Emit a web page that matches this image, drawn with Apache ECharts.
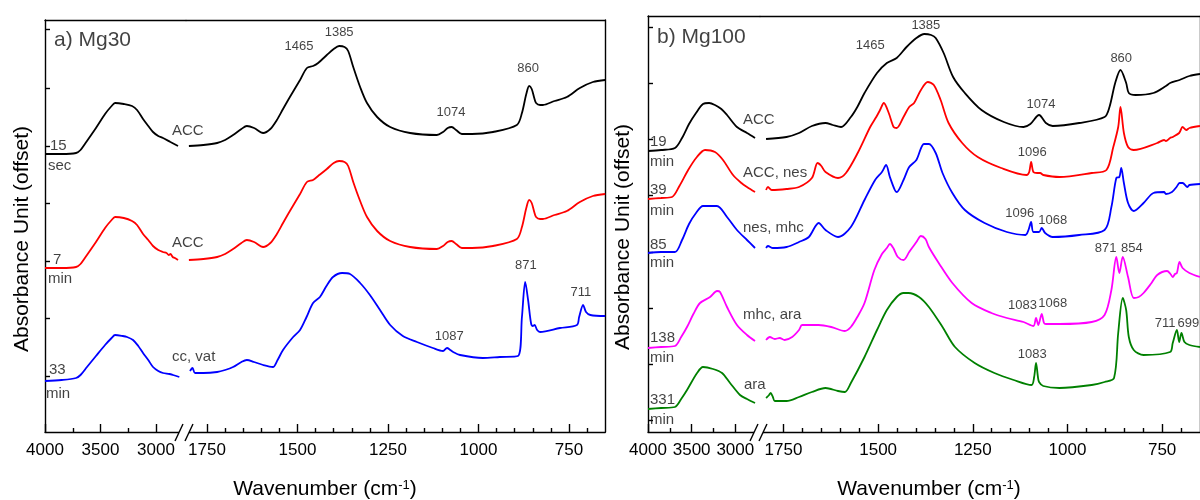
<!DOCTYPE html>
<html>
<head>
<meta charset="utf-8">
<script src="https://cdn.jsdelivr.net/npm/echarts@6/dist/echarts.min.js"></script>
<style>
  html, body { margin: 0; padding: 0; background: #fff; }
  #chart { width: 1200px; height: 500px; }
</style>
</head>
<body>
<div id="chart"></div>
<script>
// FTIR spectra, offset absorbance vs wavenumber (cm-1), broken x axis.
// Each spectrum is split into a high-wavenumber part (4000-2750) and a
// low-wavenumber part (1800-650). Points are [wavenumber, offset absorbance].

// ---- a) Mg30 ----
const mg30_15s_high = [[4000,2.80],[3850,2.80],[3720,2.81],[3680,2.84],[3622,2.93],[3541,3.06],[3459,3.20],[3400,3.28],[3369,3.31],[3290,3.30],[3216,3.28],[3171,3.24],[3117,3.15],[3070,3.08],[3027,3.02],[2980,2.98],[2937,2.96],[2870,2.92],[2802,2.88]];
const mg30_15s_low = [[1800,2.88],[1760,2.89],[1722,2.91],[1700,2.94],[1678,2.99],[1655,3.05],[1640,3.08],[1620,3.06],[1595,3.01],[1575,3.05],[1557,3.14],[1540,3.25],[1521,3.37],[1493,3.54],[1474,3.66],[1457,3.68],[1443,3.71],[1419,3.79],[1400,3.85],[1385,3.88],[1370,3.87],[1360,3.83],[1346,3.67],[1327,3.47],[1308,3.31],[1280,3.17],[1244,3.07],[1189,3.01],[1115,2.99],[1098,3.02],[1085,3.06],[1074,3.07],[1062,3.04],[1046,3.00],[1018,3.00],[960,3.02],[894,3.09],[880,3.21],[868,3.40],[860,3.48],[853,3.45],[846,3.36],[841,3.31],[830,3.29],[822,3.29],[790,3.33],[756,3.37],[720,3.46],[684,3.52],[650,3.54]];

const mg30_7m_high = [[4000,1.66],[3850,1.66],[3720,1.67],[3680,1.70],[3622,1.79],[3541,1.92],[3459,2.06],[3400,2.14],[3369,2.17],[3290,2.16],[3216,2.13],[3171,2.09],[3117,2.00],[3070,1.94],[3027,1.88],[2980,1.84],[2937,1.82],[2905,1.81],[2885,1.79],[2870,1.80],[2850,1.77],[2830,1.76],[2802,1.74]];
const mg30_7m_low = [[1800,1.74],[1760,1.75],[1722,1.77],[1700,1.80],[1678,1.85],[1655,1.91],[1640,1.94],[1620,1.92],[1595,1.87],[1575,1.91],[1557,2.00],[1540,2.11],[1521,2.23],[1493,2.40],[1474,2.52],[1457,2.54],[1443,2.58],[1419,2.65],[1400,2.71],[1385,2.73],[1370,2.72],[1360,2.68],[1346,2.52],[1327,2.33],[1308,2.17],[1280,2.03],[1244,1.93],[1189,1.87],[1115,1.85],[1098,1.88],[1085,1.92],[1074,1.93],[1062,1.90],[1046,1.86],[1018,1.86],[960,1.88],[894,1.95],[880,2.07],[868,2.26],[860,2.34],[853,2.31],[846,2.22],[841,2.17],[830,2.15],[822,2.15],[790,2.19],[756,2.23],[720,2.32],[684,2.38],[650,2.40]];

const mg30_33m_high = [[4000,0.53],[3850,0.54],[3720,0.56],[3680,0.59],[3622,0.67],[3541,0.78],[3459,0.89],[3400,0.96],[3369,0.99],[3300,0.98],[3261,0.97],[3207,0.94],[3160,0.88],[3117,0.81],[3070,0.74],[3027,0.67],[2980,0.63],[2937,0.61],[2880,0.60],[2847,0.59],[2790,0.57]];
const mg30_33m_low = [[1797,0.63],[1790,0.66],[1783,0.61],[1760,0.61],[1722,0.62],[1700,0.64],[1678,0.67],[1655,0.72],[1640,0.74],[1620,0.72],[1595,0.69],[1568,0.67],[1555,0.74],[1540,0.84],[1512,0.97],[1493,1.04],[1475,1.17],[1457,1.31],[1438,1.37],[1420,1.48],[1402,1.57],[1377,1.61],[1355,1.60],[1327,1.51],[1300,1.39],[1272,1.24],[1244,1.09],[1209,0.98],[1170,0.92],[1126,0.86],[1098,0.83],[1087,0.86],[1078,0.84],[1070,0.82],[1051,0.79],[988,0.76],[941,0.77],[891,0.78],[880,1.17],[871,1.52],[863,1.34],[855,1.11],[850,1.08],[845,1.09],[838,1.04],[830,1.02],[775,1.06],[728,1.09],[722,1.17],[711,1.29],[703,1.22],[691,1.19],[650,1.18]];

// ---- b) Mg100 ----
const mg100_19m_high = [[4000,2.81],[3850,2.82],[3691,2.84],[3610,2.94],[3530,3.08],[3450,3.19],[3370,3.28],[3300,3.29],[3233,3.27],[3160,3.23],[3095,3.17],[2981,3.05],[2866,2.99],[2774,2.94]];
const mg100_19m_low = [[1796,2.93],[1742,2.95],[1709,2.99],[1675,3.06],[1639,3.09],[1620,3.07],[1598,3.05],[1572,3.15],[1555,3.25],[1536,3.39],[1503,3.59],[1477,3.69],[1451,3.74],[1425,3.85],[1399,3.94],[1378,3.98],[1360,3.97],[1348,3.94],[1327,3.79],[1302,3.55],[1271,3.39],[1227,3.22],[1168,3.10],[1116,3.05],[1098,3.08],[1075,3.17],[1057,3.09],[1039,3.06],[969,3.09],[902,3.15],[889,3.25],[874,3.49],[860,3.62],[845,3.49],[838,3.39],[820,3.37],[773,3.39],[740,3.46],[729,3.49],[704,3.52],[678,3.56],[650,3.58]];

const mg100_39m_high = [[4000,2.33],[3850,2.34],[3725,2.35],[3640,2.46],[3540,2.62],[3440,2.75],[3347,2.82],[3233,2.80],[3141,2.72],[3026,2.57],[2930,2.49],[2866,2.45],[2774,2.40]];
const mg100_39m_low = [[1796,2.42],[1791,2.45],[1781,2.42],[1742,2.43],[1709,2.45],[1675,2.54],[1660,2.69],[1650,2.66],[1639,2.60],[1606,2.54],[1585,2.59],[1554,2.79],[1521,3.05],[1505,3.15],[1495,3.22],[1485,3.29],[1472,3.19],[1459,3.05],[1451,3.04],[1433,3.15],[1418,3.25],[1405,3.29],[1387,3.42],[1369,3.50],[1353,3.47],[1335,3.32],[1314,3.09],[1278,2.89],[1237,2.75],[1175,2.64],[1108,2.57],[1101,2.60],[1096,2.70],[1090,2.60],[1080,2.59],[1072,2.59],[1064,2.57],[1021,2.55],[936,2.59],[897,2.62],[879,2.85],[866,3.05],[860,3.25],[851,2.99],[840,2.85],[825,2.82],[763,2.89],[745,2.92],[740,2.91],[729,2.94],[722,2.95],[705,2.99],[696,3.05],[686,3.02],[678,3.04],[650,3.06]];

const mg100_85m_high = [[4000,1.79],[3850,1.80],[3691,1.80],[3610,1.92],[3530,2.08],[3450,2.19],[3370,2.26],[3210,2.26],[3095,2.15],[2981,2.02],[2866,1.92],[2774,1.84]];
const mg100_85m_low = [[1796,1.84],[1791,1.86],[1778,1.84],[1742,1.85],[1709,1.90],[1683,1.95],[1657,2.09],[1639,2.02],[1606,1.95],[1572,2.05],[1536,2.32],[1508,2.52],[1490,2.60],[1479,2.67],[1469,2.55],[1456,2.42],[1451,2.40],[1433,2.52],[1418,2.65],[1399,2.72],[1379,2.88],[1366,2.88],[1348,2.79],[1330,2.59],[1304,2.39],[1271,2.22],[1219,2.09],[1160,2.00],[1111,1.97],[1103,2.02],[1096,2.10],[1090,2.00],[1075,2.00],[1068,2.04],[1059,1.99],[1039,1.95],[969,1.97],[902,2.02],[884,2.25],[871,2.54],[863,2.55],[858,2.64],[851,2.49],[840,2.29],[825,2.21],[799,2.29],[773,2.39],[745,2.40],[740,2.38],[724,2.40],[712,2.45],[704,2.49],[696,2.49],[683,2.45],[678,2.47],[650,2.48]];

const mg100_138m_high = [[4000,0.84],[3850,0.85],[3691,0.86],[3620,0.95],[3553,1.05],[3480,1.18],[3404,1.29],[3289,1.35],[3209,1.41],[3175,1.40],[3095,1.25],[2981,1.07],[2866,0.97],[2774,0.91]];
const mg100_138m_low = [[1796,0.92],[1786,0.95],[1773,0.93],[1760,0.94],[1747,0.92],[1727,0.95],[1709,1.02],[1701,1.07],[1680,1.07],[1657,1.07],[1624,1.05],[1588,1.01],[1572,1.05],[1555,1.15],[1536,1.29],[1510,1.62],[1490,1.78],[1477,1.84],[1469,1.88],[1460,1.84],[1448,1.75],[1433,1.72],[1418,1.80],[1399,1.90],[1387,1.96],[1375,1.93],[1366,1.85],[1340,1.69],[1304,1.49],[1253,1.29],[1201,1.19],[1160,1.14],[1116,1.10],[1090,1.06],[1083,1.14],[1077,1.07],[1068,1.18],[1062,1.09],[1057,1.08],[1021,1.08],[936,1.10],[902,1.17],[884,1.42],[871,1.75],[863,1.59],[854,1.75],[840,1.55],[825,1.34],[812,1.35],[799,1.39],[780,1.48],[763,1.57],[737,1.61],[728,1.58],[722,1.55],[716,1.58],[711,1.59],[704,1.70],[696,1.64],[678,1.59],[650,1.55]];

const mg100_331m_high = [[4000,0.23],[3850,0.24],[3691,0.25],[3620,0.33],[3553,0.42],[3438,0.59],[3370,0.65],[3255,0.63],[3152,0.59],[3060,0.49],[2946,0.37],[2866,0.33],[2774,0.29]];
const mg100_331m_low = [[1796,0.34],[1788,0.37],[1784,0.39],[1778,0.35],[1773,0.31],[1742,0.31],[1709,0.35],[1675,0.40],[1639,0.44],[1606,0.41],[1588,0.40],[1572,0.49],[1536,0.75],[1503,1.02],[1477,1.22],[1451,1.35],[1433,1.39],[1420,1.39],[1392,1.35],[1366,1.25],[1330,1.05],[1297,0.85],[1245,0.69],[1193,0.59],[1142,0.52],[1095,0.47],[1088,0.55],[1083,0.69],[1078,0.55],[1075,0.50],[1064,0.46],[1021,0.44],[936,0.47],[902,0.50],[877,0.54],[866,0.99],[854,1.34],[845,1.22],[838,0.95],[825,0.82],[799,0.77],[729,0.80],[722,0.89],[711,1.02],[705,0.90],[699,0.99],[691,0.90],[678,0.87],[650,0.85]];

// Tick labels of the broken wavenumber axis
const highTicks = [4000, 3500, 3000];
const highMinorTicks = [3750, 3250];
const lowTicks = [1750, 1500, 1250, 1000, 750];

// Sample annotations: [wavenumber, offset absorbance, text]
const sampleNotesA = [[3955,2.88,'15'],[3973,2.68,'sec'],[3928,1.74,'7'],[3973,1.55,'min'],[3964,0.64,'33'],[3991,0.40,'min'],
  [2856,3.03,'ACC'],[2856,1.91,'ACC'],[2856,0.77,'cc, vat']];
const peakNotesA = [[1496,3.88,'1465'],[1385,4.02,'1385'],[863,3.66,'860'],[1076,3.22,'1074'],[869,1.69,'871'],[717,1.42,'711'],[1081,0.98,'1087']];
const sampleNotesB = [[3977,2.90,'19'],[3977,2.70,'min'],[3977,2.42,'39'],[3977,2.21,'min'],[3977,1.87,'85'],[3977,1.69,'min'],
  [3977,0.94,'138'],[3977,0.74,'min'],[3977,0.32,'331'],[3977,0.12,'min'],
  [2912,3.12,'ACC'],[2912,2.59,'ACC, nes'],[2912,2.04,'nes, mhc'],[2912,1.17,'mhc, ara'],[2900,0.47,'ara']];
const peakNotesB = [[1521,3.87,'1465'],[1374,4.07,'1385'],[858,3.74,'860'],[1070,3.28,'1074'],[1093,2.80,'1096'],[1126,2.19,'1096'],
  [1039,2.12,'1068'],[899,1.84,'871'],[830,1.84,'854'],[1119,1.27,'1083'],[1039,1.29,'1068'],[1093,0.78,'1083'],[742,1.09,'711'],[681,1.09,'699']];

const FONT = '"Liberation Sans", Arial, Helvetica, sans-serif';
const AXIS_COLOR = '#000';

// minor ticks every 50 cm-1 on the low-wavenumber part
const lowMinorTicks = [];
for (let w = 1700; w >= 700; w -= 50) if (!lowTicks.includes(w)) lowMinorTicks.push(w);

const grids = [
  { left: 45, top: 20, width: 141, height: 412 },    // a, 4000-2730
  { left: 186, top: 20, width: 419.2, height: 412 }, // a, 1808-650
  { left: 648, top: 16, width: 112, height: 416 },   // b, 4000-2717
  { left: 760, top: 16, width: 450.8, height: 416 }  // b, 1812-650
];
const xRanges = [[2730, 4000], [650, 1808], [2717, 4000], [650, 1812]];
const yRanges = [[0.02, 4.14], [0.02, 4.14], [0, 4.16], [0, 4.16]];
const yTicks = [[0.58,1.16,1.73,2.31,2.88,3.46,4.05], null, [0.12,0.68,1.24,1.80,2.37,2.93,3.49,4.05], null];

const lineStyle = { color: AXIS_COLOR, width: 1.4 };
const xAxis = [];
const yAxis = [];
const mainX = [];
grids.forEach((g, gi) => {
  const isHigh = gi % 2 === 0;
  const major = isHigh ? highTicks : lowTicks;
  const minor = isHigh ? highMinorTicks : lowMinorTicks;
  const base = { gridIndex: gi, type: 'value', min: xRanges[gi][0], max: xRanges[gi][1], inverse: true, splitLine: { show: false } };
  mainX.push(xAxis.length);
  xAxis.push(Object.assign({}, base, {
    position: 'bottom',
    axisLine: { show: true, onZero: false, lineStyle },
    axisTick: { show: true, inside: true, length: 8, customValues: major, lineStyle },
    axisLabel: { show: true, customValues: major, margin: 10, color: '#000', fontSize: 17, fontFamily: FONT,
                 formatter: v => String(v) }
  }));
  xAxis.push(Object.assign({}, base, {
    position: 'bottom',
    axisLine: { show: false, onZero: false },
    axisTick: { show: true, inside: true, length: 4, customValues: minor, lineStyle },
    axisLabel: { show: false }
  }));
  xAxis.push(Object.assign({}, base, {
    position: 'top',
    axisLine: { show: true, onZero: false, lineStyle },
    axisTick: { show: false },
    axisLabel: { show: false }
  }));
  yAxis.push({
    gridIndex: gi, type: 'value', min: yRanges[gi][0], max: yRanges[gi][1],
    position: isHigh ? 'left' : 'right',
    splitLine: { show: false },
    axisLine: { show: true, onZero: false, lineStyle },
    axisTick: yTicks[gi] ? { show: true, inside: true, length: 5, customValues: yTicks[gi], lineStyle } : { show: false },
    axisLabel: { show: false }
  });
});

const series = [];
function addSpectrum(gridHigh, high, low, color) {
  [[gridHigh, high], [gridHigh + 1, low]].forEach(([gi, data]) => {
    series.push({
      type: 'line', xAxisIndex: mainX[gi], yAxisIndex: gi, data,
      symbol: 'none', smooth: 0.3, clip: true,
      lineStyle: { color, width: 1.8 }, silent: true
    });
  });
}
addSpectrum(0, mg30_15s_high, mg30_15s_low, '#000000');
addSpectrum(0, mg30_7m_high, mg30_7m_low, '#ff0000');
addSpectrum(0, mg30_33m_high, mg30_33m_low, '#0000ff');
addSpectrum(2, mg100_19m_high, mg100_19m_low, '#000000');
addSpectrum(2, mg100_39m_high, mg100_39m_low, '#ff0000');
addSpectrum(2, mg100_85m_high, mg100_85m_low, '#0000ff');
addSpectrum(2, mg100_138m_high, mg100_138m_low, '#ff00ff');
addSpectrum(2, mg100_331m_high, mg100_331m_low, '#008000');

function addNotes(gridHigh, notes, align, fontSize) {
  [true, false].forEach(high => {
    const gi = high ? gridHigh : gridHigh + 1;
    const items = notes.filter(n => (n[0] > 2500) === high);
    if (!items.length) return;
    series.push({
      type: 'scatter', xAxisIndex: mainX[gi], yAxisIndex: gi, symbolSize: 0, clip: false, silent: true,
      data: items.map(n => ({ value: [n[0], n[1]], name: n[2] })),
      label: { show: true, position: 'inside', formatter: p => p.name, align, verticalAlign: 'middle',
               color: '#111', fontSize, fontFamily: FONT }
    });
  });
}
addNotes(0, sampleNotesA, 'left', 15);
addNotes(0, peakNotesA, 'center', 13);
addNotes(2, sampleNotesB, 'left', 15);
addNotes(2, peakNotesB, 'center', 13);
addNotes(0, [[3919, 3.94, 'a) Mg30']], 'left', 21);
addNotes(2, [[3897, 3.95, 'b) Mg100']], 'left', 21);

function titleText(x, y, text, rotation) {
  return {
    type: 'text', x, y, rotation: rotation || 0, z: 100,
    style: {
      text, fill: '#000', font: '21px ' + FONT,
      align: 'center', verticalAlign: 'middle', textAlign: 'center', textVerticalAlign: 'middle',
      rich: { sup: { fontSize: 13, fontFamily: FONT, fill: '#000', verticalAlign: 'top' } }
    }
  };
}
function axisBreak(x1, x2) {
  // white gap in the bottom axis line with two slanted strokes
  return [
    { type: 'rect', z: 100, shape: { x: x1 + 4, y: 429, width: x2 - x1 - 8, height: 6 }, style: { fill: '#fff' } },
    { type: 'line', z: 101, shape: { x1: x1, y1: 441, x2: x1 + 8, y2: 424 }, style: { stroke: '#000', lineWidth: 1.4 } },
    { type: 'line', z: 101, shape: { x1: x2 - 8, y1: 441, x2: x2, y2: 424 }, style: { stroke: '#000', lineWidth: 1.4 } }
  ];
}

const option = {
  animation: false,
  backgroundColor: '#fff',
  grid: grids,
  xAxis, yAxis, series,
  graphic: [
    titleText(325, 489, 'Wavenumber (cm{sup|-1})'),
    titleText(929, 489, 'Wavenumber (cm{sup|-1})'),
    titleText(22.5, 239, 'Absorbance Unit (offset)', Math.PI / 2),
    titleText(623, 237, 'Absorbance Unit (offset)', Math.PI / 2),
    ...axisBreak(175, 193),
    ...axisBreak(750, 767)
  ]
};

echarts.init(document.getElementById('chart'), null, { renderer: 'canvas' }).setOption(option);
</script>
</body>
</html>
